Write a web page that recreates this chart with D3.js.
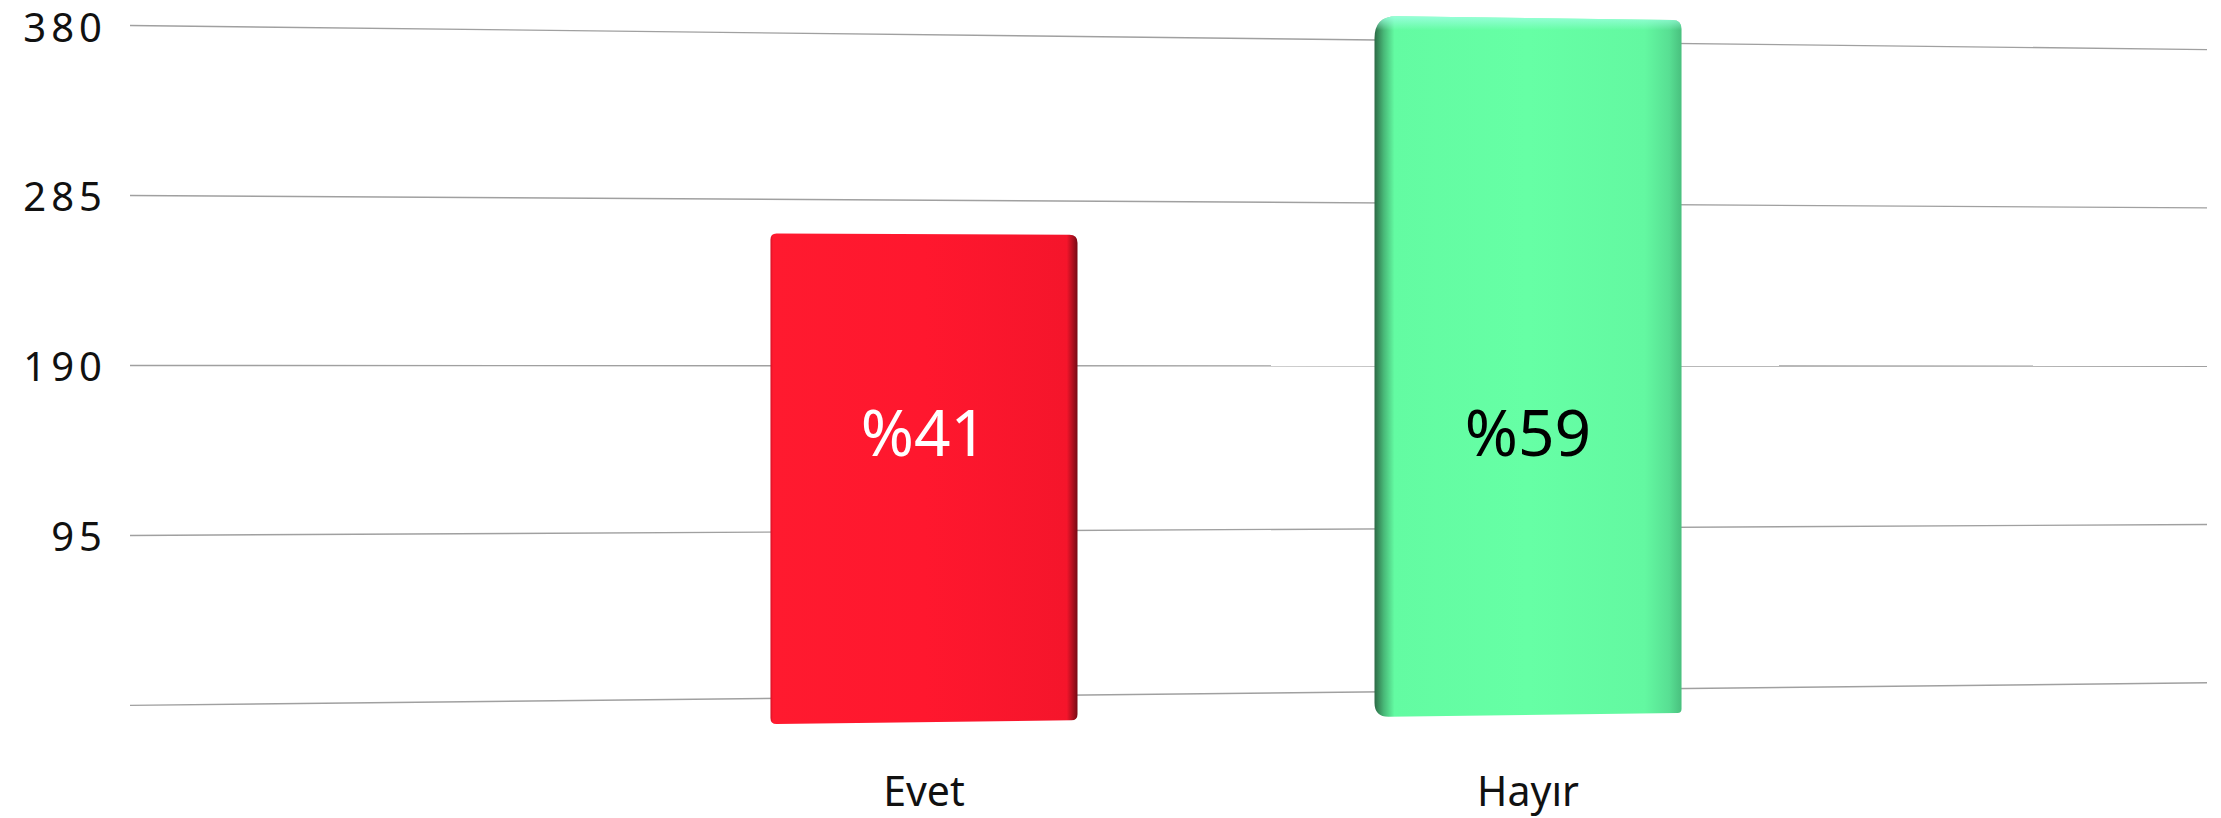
<!DOCTYPE html>
<html>
<head>
<meta charset="utf-8">
<script src="https://cdn.jsdelivr.net/npm/d3@7"></script>
<style>
  html, body { margin: 0; padding: 0; background: #ffffff; }
  svg { display: block; }
  text { font-family: "Noto Sans", "DejaVu Sans", sans-serif; }
</style>
</head>
<body>
<svg id="chart" width="2221" height="818"></svg>
<script>
// ---- data ----
const categories = ["Evet", "Hayır"];
const values = [256, 373];
const tickValues = [0, 95, 190, 285, 380];
const tickLabels = ["", "95", "190", "285", "380"];

// ---- layout / style ----
const svg = d3.select("#chart");

// back wall (gridlines) projection: left and right edge scales
const gridX0 = 130, gridX1 = 2207;
const yLeft = d3.scaleLinear().domain([0, 380]).range([705.4, 25.5]);
const yRight = d3.scaleLinear().domain([0, 380]).range([682.8, 49.6]);

// front plane (bars) projection: scales at two reference x positions
const frontXRef = [770, 1681];
const yFrontA = d3.scaleLinear().domain([0, 380]).range([724, 724 - 380 * 1.916]);
const yFrontB = d3.scaleLinear().domain([0, 380]).range([713, 713 - 380 * 1.916 * 0.9698]);
const tFront = d3.scaleLinear().domain(frontXRef).range([0, 1]);
function yFront(v, x) {
  const t = tFront(x);
  return yFrontA(v) * (1 - t) + yFrontB(v) * t;
}

const x = d3.scaleBand().domain(categories).range([622, 1830])
  .paddingInner(0.4917).paddingOuter(0.2458);

// ---- gridlines ----
const grid = svg.append("g");
grid.selectAll("line").data(tickValues).join("line")
  .attr("x1", gridX0).attr("x2", gridX1)
  .attr("y1", d => yLeft(d)).attr("y2", d => yRight(d))
  .attr("stroke", "#a0a0a0").attr("stroke-width", 1.4);

// ---- y axis labels ----
const axis = d3.axisLeft(yLeft).tickValues(tickValues)
  .tickFormat((d, i) => tickLabels[i]).tickSize(0).tickPadding(23);
const ag = svg.append("g").attr("transform", `translate(${gridX0},0)`).call(axis);
ag.select(".domain").remove();
ag.selectAll("text")
  .attr("font-size", 40)
  .attr("fill", "#111")
  .attr("dy", 15.5)
  .attr("letter-spacing", 5)
  .attr("font-family", "'DejaVu Sans', sans-serif");

// ---- bar styles ----
const styles = [
  { stops: [[0, "#d41226"], [0.008, "#ff1a2f"], [0.5, "#ff172e"], [0.965, "#f5152b"], [1, "#760a14"]],
    rtl: 6, rtr: 8, rbr: 6, rbl: 6, text: "#ffffff", highlight: null },
  { stops: [[0, "#2c6a45"], [0.03, "#48b877"], [0.065, "#63fba2"], [0.5, "#66ffa5"], [0.88, "#63f8a1"], [0.96, "#58df93"], [1, "#49c07e"]],
    rtl: 22, rtr: 9, rbr: 4, rbl: 14, text: "#000000", highlight: "#9dffe0" }
];

const defs = svg.append("defs");
const total = d3.sum(values);

categories.forEach((c, i) => {
  const x0 = x(c), x1 = x(c) + x.bandwidth();
  const v = values[i];
  const s = styles[i];
  const t0 = yFront(v, x0), t1 = yFront(v, x1);
  const b0 = yFront(0, x0), b1 = yFront(0, x1);

  const gid = "grad" + i;
  const g = defs.append("linearGradient").attr("id", gid)
    .attr("gradientUnits", "userSpaceOnUse")
    .attr("x1", x0).attr("x2", x1).attr("y1", 0).attr("y2", 0);
  s.stops.forEach(st => g.append("stop").attr("offset", st[0]).attr("stop-color", st[1]));

  const p = d3.path();
  p.moveTo(x0, t0 + s.rtl);
  p.quadraticCurveTo(x0, t0, x0 + s.rtl, t0);
  p.lineTo(x1 - s.rtr, t1);
  p.quadraticCurveTo(x1, t1, x1, t1 + s.rtr);
  p.lineTo(x1, b1 - s.rbr);
  p.quadraticCurveTo(x1, b1, x1 - s.rbr, b1);
  p.lineTo(x0 + s.rbl, b0);
  p.quadraticCurveTo(x0, b0, x0, b0 - s.rbl);
  p.closePath();

  svg.append("path").attr("d", p.toString()).attr("fill", `url(#${gid})`);

  if (s.highlight) {
    const hid = "hl" + i;
    const hg = defs.append("linearGradient").attr("id", hid)
      .attr("gradientUnits", "userSpaceOnUse")
      .attr("x1", 0).attr("x2", 0).attr("y1", Math.min(t0, t1)).attr("y2", Math.min(t0, t1) + 14);
    hg.append("stop").attr("offset", 0).attr("stop-color", s.highlight).attr("stop-opacity", 0.9);
    hg.append("stop").attr("offset", 1).attr("stop-color", s.highlight).attr("stop-opacity", 0);
    svg.append("path").attr("d", p.toString()).attr("fill", `url(#${hid})`);
  }

  // percentage label
  svg.append("text")
    .attr("x", (x0 + x1) / 2)
    .attr("y", 456)
    .attr("text-anchor", "middle")
    .attr("font-size", 64)
    .attr("fill", s.text)
    .text("%" + Math.round(v / total * 100));

  // category label
  svg.append("text")
    .attr("x", (x0 + x1) / 2)
    .attr("y", 806)
    .attr("text-anchor", "middle")
    .attr("font-size", 41)
    .attr("fill", "#111")
    .text(c);
});
</script>
</body>
</html>
